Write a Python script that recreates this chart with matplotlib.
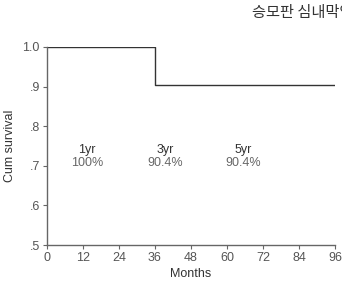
import matplotlib
matplotlib.use("Agg")
import matplotlib.pyplot as plt

plt.rcParams['font.family'] = ['Liberation Sans', 'DejaVu Sans']

# survival curve (months, cumulative survival)
months = [0, 36, 36, 96]
survival = [1.0, 1.0, 0.904, 0.904]

# yearly annotations
ann_x = [13.3, 39.3, 65.3]
ann_year = ["1yr", "3yr", "5yr"]
ann_pct = ["100%", "90.4%", "90.4%"]

xticks = [0, 12, 24, 36, 48, 60, 72, 84, 96]
yticks = [0.5, 0.6, 0.7, 0.8, 0.9, 1.0]
ylabels = [".5", ".6", ".7", ".8", ".9", "1.0"]

gray = "#666666"

fig = plt.figure(figsize=(3.42, 2.83), dpi=100)
ax = fig.add_axes([0.137, 0.134, 0.843, 0.700])

ax.plot(months, survival, color="#333333", lw=1.0)

for x, yr, pct in zip(ann_x, ann_year, ann_pct):
    ax.text(x, 0.74, yr, ha="center", va="center", fontsize=9, color="#333333")
    ax.text(x, 0.708, pct, ha="center", va="center", fontsize=9, color="#666666")

ax.set_xlim(0, 96)
ax.set_ylim(0.5, 1.0)
ax.set_xticks(xticks)
ax.set_yticks(yticks)
ax.set_yticklabels(ylabels)
ax.tick_params(direction="out", length=3, width=0.8, colors=gray, labelsize=9,
               labelcolor="#555555", pad=2)
for s in ["top", "right"]:
    ax.spines[s].set_visible(False)
for s in ["left", "bottom"]:
    ax.spines[s].set_color(gray)
    ax.spines[s].set_linewidth(1.0)

ax.set_xlabel("Months", fontsize=9, color="#333333", labelpad=3)
ax.set_ylabel("Cum survival", fontsize=9, color="#333333", labelpad=5)

fig.text(252 / 342, 1 - 13 / 283, "승모판 심내막염", fontsize=11,
         family=["Noto Sans CJK KR", "DejaVu Sans"], color="#333333",
         ha="left", va="center")

fig.savefig("out.png", dpi=100)
